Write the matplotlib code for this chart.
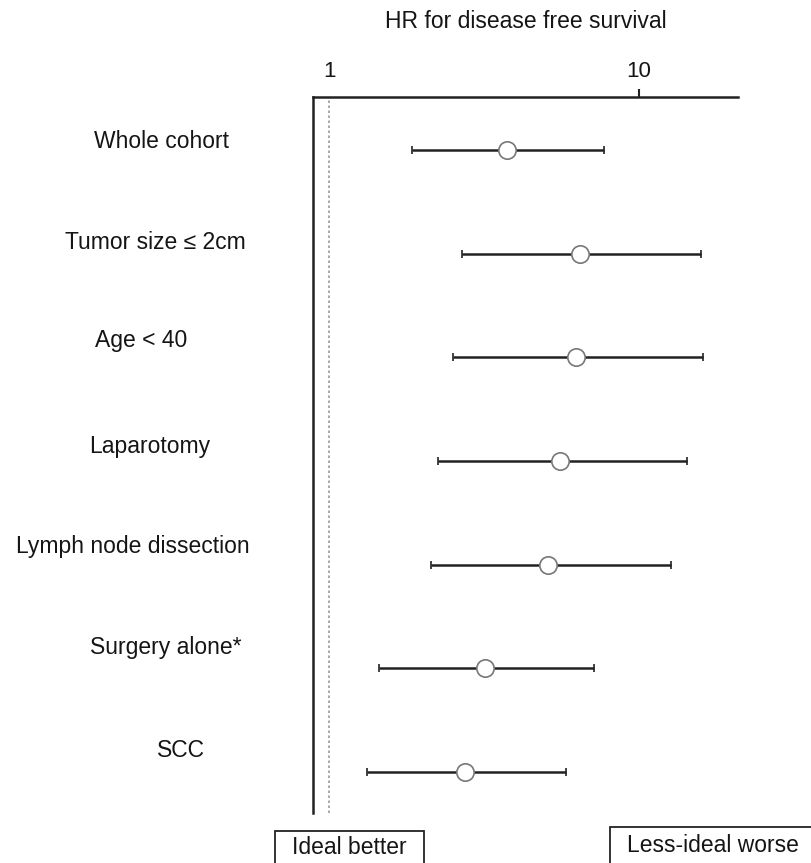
import numpy as np
import matplotlib.pyplot as plt
from matplotlib.patches import Rectangle

plt.rcParams['font.family'] = ['Liberation Sans', 'DejaVu Sans']

# Hazard ratios
groups = ['Whole cohort', 'Tumor size \u2264 2cm', 'Age < 40', 'Laparotomy',
          'Lymph node dissection', 'Surgery alone*', 'SCC']
hr = [3.76, 6.48, 6.29, 5.58, 5.10, 3.19, 2.74]
ci_low = [1.85, 2.68, 2.51, 2.24, 2.13, 1.45, 1.33]
ci_high = [7.70, 15.9, 16.1, 14.3, 12.7, 7.14, 5.80]

# label placement (pixels in the 812x863 figure)
label_x = [162, 155, 141, 150, 133, 166, 181]
label_dy = [8, 11, 17, 14, 18, 21, 22]

W, H = 812, 863
TXT = '#151515'
fig = plt.figure(figsize=(W / 100, H / 100), dpi=100)
ax = fig.add_axes([313 / W, 1 - 813 / H, (738 - 313) / W, (813 - 97) / H])

rows = np.arange(len(groups))
hr = np.array(hr)
err = np.array([hr - np.array(ci_low), np.array(ci_high) - hr])

ax.axvline(1, color='#999999', linestyle=(0, (1.5, 1.5)), lw=1.2, zorder=1)
ax.errorbar(hr, rows, xerr=err, fmt='o', color='#222222', ecolor='#222222',
            elinewidth=1.8, capsize=3, capthick=1.5,
            markersize=12.5, markerfacecolor='white', markeredgecolor='#777777',
            markeredgewidth=1.2, zorder=3)

ax.set_xscale('log')
ax.set_xlim(0.887, 20.9)
ax.set_ylim(6.395, -0.51)

for s in ['right', 'bottom']:
    ax.spines[s].set_visible(False)
for s in ['left', 'top']:
    ax.spines[s].set_linewidth(1.8)
    ax.spines[s].set_color('#222222')

ax.xaxis.tick_top()
ax.set_xticks([1, 10])
ax.set_xticklabels(['1', '10'], fontsize=16)
ax.xaxis.set_minor_locator(plt.NullLocator())
ax.tick_params(axis='x', which='major', length=6, width=1.5, pad=5,
               colors='#222222', labelcolor=TXT)
ax.xaxis.get_major_ticks()[0].tick2line.set_visible(False)
ax.set_yticks([])

for i, g in enumerate(groups):
    ax.annotate(g, xy=(label_x[i] / W, rows[i]),
                xycoords=('figure fraction', 'data'),
                xytext=(0, label_dy[i] * 0.72), textcoords='offset points',
                ha='center', va='center', fontsize=16.5, color=TXT)

fig.text((313 + 738) / 2 / W, 1 - 22 / H, 'HR for disease free survival',
         ha='center', va='center', fontsize=16.5, color=TXT)

# boxes at the bottom, cut off by the figure edge
fig.patches.append(Rectangle((275 / W, -0.02), 149 / W, (863 - 831) / H + 0.02,
                             transform=fig.transFigure, fill=False,
                             edgecolor='#222222', lw=1.3))
fig.text(349 / W, 1 - 847 / H, 'Ideal better', ha='center', va='center',
         fontsize=16.5, color=TXT)
fig.patches.append(Rectangle((610 / W, -0.02), 0.6, (863 - 827) / H + 0.02,
                             transform=fig.transFigure, fill=False,
                             edgecolor='#222222', lw=1.3))
fig.text(713 / W, 1 - 845 / H, 'Less-ideal worse', ha='center', va='center',
         fontsize=16.5, color=TXT)

fig.savefig('out.png', dpi=100)
